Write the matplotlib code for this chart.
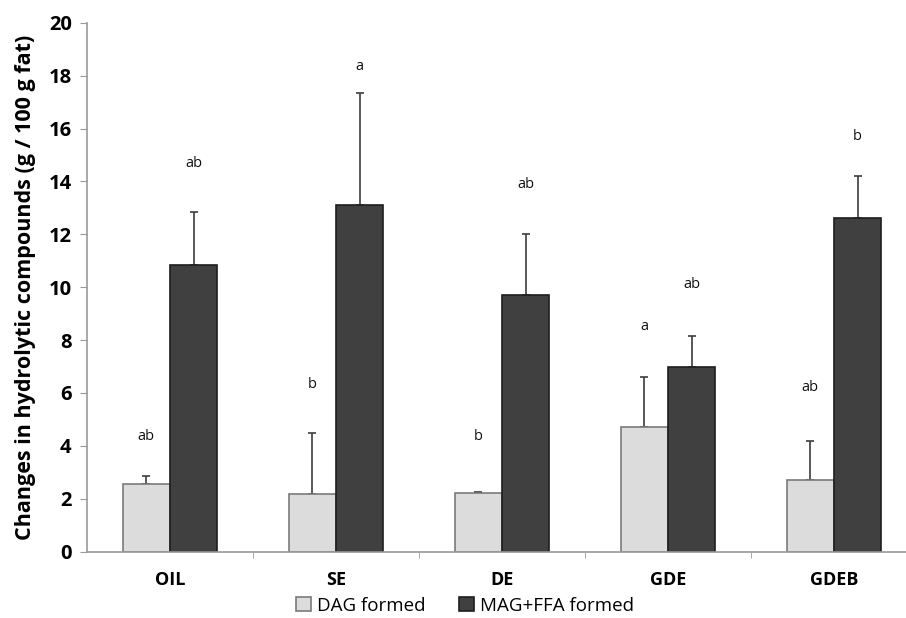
import matplotlib
matplotlib.use("Agg")
import matplotlib.pyplot as plt
import numpy as np

plt.rcParams['font.family'] = ['Open Sans', 'DejaVu Sans']

# data
categories = ['OIL', 'SE', 'DE', 'GDE', 'GDEB']
dag = [2.55, 2.17, 2.21, 4.70, 2.71]
dag_err = [0.32, 2.33, 0.06, 1.89, 1.46]
mag_ffa = [10.85, 13.1, 9.7, 7.0, 12.6]
mag_err = [2.0, 4.25, 2.3, 1.17, 1.6]
dag_letters = ['ab', 'b', 'b', 'a', 'ab']
mag_letters = ['ab', 'a', 'ab', 'ab', 'b']
dag_letter_y = [4.37, 6.34, 4.37, 8.5, 6.21]
mag_letter_y = [14.66, 18.34, 13.89, 10.11, 15.69]

fig = plt.figure(figsize=(9.06, 6.18), dpi=100)
ax = fig.add_axes([87 / 906, 66.3 / 618, 830 / 906, 529 / 618])

x = np.arange(len(categories))
w = 0.284

ax.bar(x - w / 2, dag, w, color='#dcdcdc', edgecolor='#7a7a7a', linewidth=1.2,
       label='DAG formed', zorder=2)
ax.bar(x + w / 2, mag_ffa, w, color='#404040', edgecolor='#1e1e1e', linewidth=1.2,
       label='MAG+FFA formed', zorder=2)

ax.errorbar(x - w / 2, dag, yerr=[np.zeros(len(dag)), dag_err], fmt='none',
            ecolor='#3c3c3c', elinewidth=1.2, capsize=3, capthick=1.2, zorder=1)
ax.errorbar(x + w / 2, mag_ffa, yerr=[np.zeros(len(mag_ffa)), mag_err], fmt='none',
            ecolor='#3c3c3c', elinewidth=1.2, capsize=3, capthick=1.2, zorder=1)

for i in range(len(categories)):
    ax.text(x[i] - w / 2, dag_letter_y[i], dag_letters[i], ha='center', va='center',
            fontsize=10.5, color='#111111')
    ax.text(x[i] + w / 2, mag_letter_y[i], mag_letters[i], ha='center', va='center',
            fontsize=10.5, color='#111111')

ax.set_xlim(-0.5, len(categories) - 0.5)
ax.set_ylim(0, 20)
ax.set_yticks(np.arange(0, 21, 2))
ax.set_yticklabels([str(v) for v in range(0, 21, 2)], fontweight='bold', fontsize=14.5)

ax.set_xticks(x)
ax.set_xticklabels(categories, fontweight='bold', fontsize=13)
ax.tick_params(axis='x', which='major', length=0, pad=14)
ax.set_xticks(np.arange(0.5, len(categories) - 0.5, 1), minor=True)
ax.tick_params(axis='x', which='minor', length=4, color='#9a9a9a', direction='out')
ax.tick_params(axis='y', length=5, color='#9a9a9a', direction='out', pad=6)

for s in ['top', 'right']:
    ax.spines[s].set_visible(False)
for s in ['left', 'bottom']:
    ax.spines[s].set_color('#9a9a9a')
    ax.spines[s].set_linewidth(1.2)

ax.set_ylabel('Changes in hydrolytic compounds (g / 100 g fat)', fontweight='bold',
              fontsize=15.5, labelpad=9)

fig.legend(loc='center', bbox_to_anchor=(0.513, 0.02), ncol=2, frameon=False,
           fontsize=13.5, handlelength=0.8, handleheight=0.8, handletextpad=0.3,
           columnspacing=1.8)

fig.savefig('out.png', dpi=100)
